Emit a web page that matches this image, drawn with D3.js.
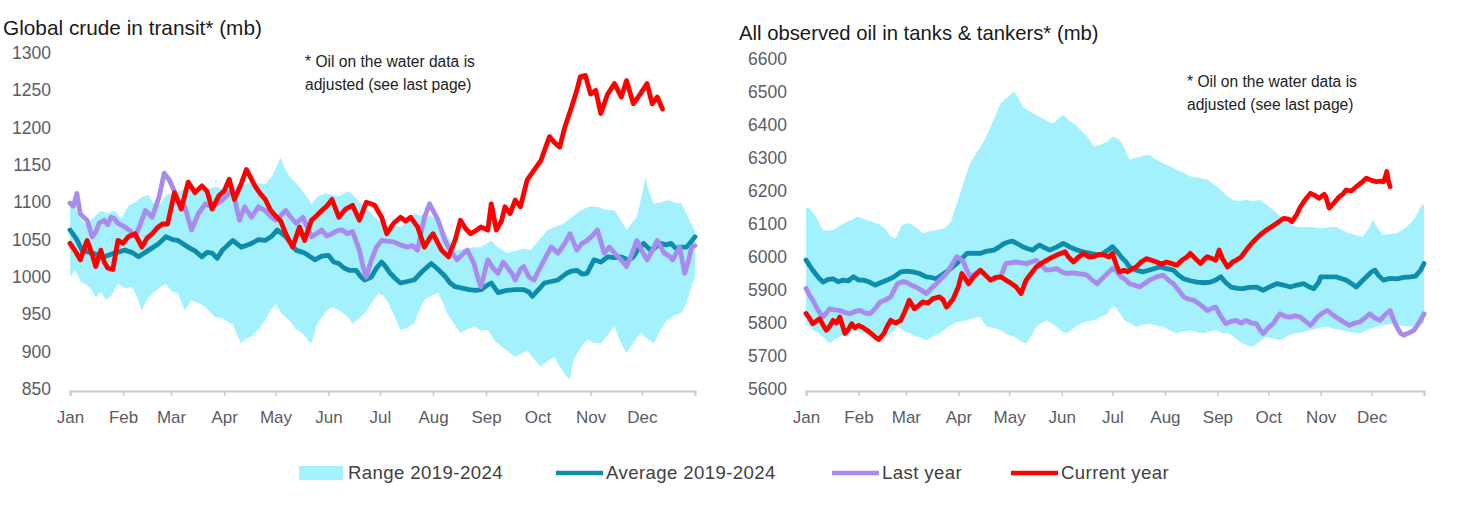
<!DOCTYPE html>
<html>
<head>
<meta charset="utf-8">
<script src="https://cdn.jsdelivr.net/npm/d3@7"></script>
<style>
  html, body { margin: 0; padding: 0; background: #fff; }
  svg { display: block; font-family: 'Liberation Sans', Arial, sans-serif; }
</style>
</head>
<body>
<svg id="chart" width="1480" height="507"></svg>
<script>
// ---------- shared categories ----------
const monthStarts = [0, 31, 59, 90, 120, 151, 181, 212, 243, 273, 304, 334, 365];
const monthLabels = ["Jan","Feb","Mar","Apr","May","Jun","Jul","Aug","Sep","Oct","Nov","Dec",""];
const leftTicks = [850, 900, 950, 1000, 1050, 1100, 1150, 1200, 1250, 1300];
const rightTicks = [5600, 5700, 5800, 5900, 6000, 6100, 6200, 6300, 6400, 6500, 6600];
const legendLabels = ["Range 2019-2024", "Average 2019-2024", "Last year", "Current year"];

// ---------- left chart: Global crude in transit (mb), [day of year, value] ----------
const leftCurrent = [[0,1045],[3,1035],[6,1023],[10,1049],[13,1030],[15,1014],[18,1036],[20,1020],[22,1012],[25,1010],[28,1049],[31,1045],[34,1054],[38,1058],[42,1040],[45,1052],[48,1058],[51,1066],[54,1071],[57,1071],[61,1113],[65,1091],[69,1127],[73,1113],[77,1122],[80,1115],[83,1091],[87,1109],[90,1115],[93,1131],[96,1104],[100,1125],[103,1144],[108,1122],[111,1112],[114,1104],[117,1090],[120,1082],[123,1075],[126,1058],[130,1040],[134,1067],[137,1049],[141,1076],[144,1082],[147,1089],[150,1095],[153,1104],[157,1080],[161,1091],[165,1096],[169,1076],[173,1100],[178,1096],[182,1080],[185,1058],[189,1072],[193,1080],[196,1075],[199,1080],[203,1067],[207,1040],[210,1052],[212,1058],[217,1036],[221,1027],[225,1050],[228,1076],[231,1065],[234,1058],[237,1062],[240,1067],[244,1063],[246,1098],[249,1063],[252,1075],[254,1094],[257,1085],[260,1103],[263,1094],[267,1130],[271,1143],[275,1156],[280,1188],[283,1180],[286,1174],[289,1201],[293,1228],[296,1250],[298,1268],[301,1270],[304,1245],[307,1250],[310,1219],[314,1245],[318,1259],[322,1241],[325,1263],[329,1232],[333,1245],[337,1259],[340,1232],[343,1241],[346,1225]];
const leftAverage = [[0,1063],[4,1050],[7,1036],[13,1032],[20,1027],[26,1032],[32,1036],[36,1033],[40,1027],[46,1036],[52,1045],[56,1054],[60,1050],[63,1049],[69,1040],[73,1035],[77,1027],[80,1033],[83,1032],[86,1025],[89,1036],[95,1049],[100,1040],[106,1045],[110,1050],[114,1049],[118,1055],[121,1063],[126,1054],[129,1045],[132,1036],[137,1032],[143,1023],[147,1028],[151,1029],[154,1020],[157,1018],[160,1012],[163,1009],[167,1009],[170,1000],[172,996],[176,1000],[179,1012],[182,1020],[184,1015],[187,1005],[190,998],[193,992],[197,994],[201,996],[206,1008],[211,1018],[215,1010],[219,1001],[222,992],[225,987],[229,985],[233,983],[237,982],[240,983],[243,988],[246,992],[250,979],[255,982],[260,983],[265,983],[268,980],[270,974],[274,984],[277,992],[281,994],[285,996],[290,1005],[293,1008],[296,1009],[299,1004],[302,1005],[306,1023],[310,1020],[314,1027],[318,1026],[322,1027],[326,1023],[329,1027],[332,1038],[335,1045],[339,1036],[342,1040],[345,1045],[348,1043],[351,1045],[354,1038],[356,1040],[360,1040],[362,1045],[365,1054]];
const leftLastYear = [[0,1099],[2,1095],[4,1112],[6,1085],[8,1080],[10,1076],[13,1054],[15,1060],[17,1072],[20,1076],[22,1070],[24,1080],[26,1078],[28,1072],[32,1067],[35,1062],[38,1054],[41,1070],[44,1089],[48,1080],[52,1107],[55,1139],[58,1130],[61,1115],[63,1103],[67,1094],[71,1063],[75,1085],[79,1098],[83,1094],[86,1098],[89,1103],[92,1110],[95,1116],[99,1076],[102,1094],[106,1080],[110,1094],[114,1089],[117,1082],[120,1076],[123,1082],[126,1089],[129,1080],[132,1072],[136,1080],[141,1054],[144,1058],[147,1063],[150,1055],[153,1058],[156,1062],[159,1063],[162,1058],[165,1061],[169,1036],[171,1015],[173,1000],[176,1023],[179,1040],[182,1049],[185,1048],[189,1047],[193,1043],[197,1040],[200,1042],[203,1036],[207,1080],[210,1098],[213,1085],[215,1076],[219,1049],[222,1036],[226,1023],[229,1030],[232,1036],[236,1018],[238,1000],[240,987],[242,1005],[244,1023],[247,1012],[250,1005],[253,1020],[255,1014],[258,1005],[260,996],[263,1010],[265,1014],[268,1000],[271,996],[274,1010],[277,1023],[281,1040],[285,1032],[289,1045],[292,1058],[296,1036],[299,1045],[302,1049],[305,1055],[308,1063],[312,1032],[315,1040],[318,1032],[321,1025],[325,1014],[328,1030],[331,1049],[334,1035],[337,1023],[340,1035],[343,1049],[347,1032],[350,1028],[352,1023],[356,1040],[359,1005],[361,1020],[363,1040],[365,1042]];
const leftRangeHigh = [[0,1095],[3,1092],[7,1075],[10,1070],[14,1080],[18,1089],[22,1085],[26,1089],[30,1078],[34,1095],[38,1100],[42,1107],[46,1110],[48,1100],[52,1095],[56,1110],[60,1112],[64,1115],[68,1120],[72,1112],[76,1120],[80,1118],[85,1121],[90,1118],[95,1122],[100,1120],[105,1128],[110,1126],[114,1124],[118,1135],[121,1150],[123,1160],[125,1148],[128,1135],[132,1126],[136,1115],[139,1105],[141,1098],[145,1108],[149,1112],[153,1110],[157,1108],[160,1112],[163,1115],[166,1108],[169,1100],[172,1094],[176,1085],[180,1076],[184,1068],[188,1070],[193,1067],[197,1075],[201,1085],[205,1082],[208,1085],[212,1080],[215,1076],[219,1060],[223,1045],[226,1036],[231,1038],[236,1040],[240,1040],[246,1049],[250,1040],[255,1032],[260,1035],[265,1038],[269,1036],[274,1050],[279,1063],[284,1068],[288,1071],[293,1080],[298,1089],[303,1094],[308,1094],[313,1090],[318,1089],[322,1075],[325,1063],[328,1072],[331,1080],[334,1110],[336,1134],[338,1115],[341,1098],[345,1100],[349,1103],[353,1100],[357,1098],[360,1085],[363,1070],[365,1063]];
const leftRangeLow = [[0,1000],[3,1010],[6,995],[9,991],[12,985],[15,973],[18,980],[21,970],[24,975],[28,991],[32,985],[36,987],[39,975],[42,955],[45,970],[48,978],[52,985],[56,991],[59,982],[63,978],[67,955],[71,969],[75,965],[79,960],[83,950],[85,946],[89,945],[92,940],[95,937],[98,920],[100,911],[103,918],[106,920],[110,930],[114,942],[117,955],[120,964],[124,950],[128,942],[132,930],[136,924],[139,915],[141,911],[144,935],[147,946],[150,955],[153,960],[157,955],[160,951],[163,945],[165,937],[169,945],[172,951],[176,965],[180,978],[183,975],[186,965],[190,945],[193,929],[197,932],[201,938],[204,955],[207,970],[211,975],[215,979],[218,965],[220,952],[224,938],[228,925],[232,930],[236,934],[240,928],[244,929],[248,915],[252,907],[256,900],[260,893],[264,898],[267,902],[271,890],[275,880],[279,888],[283,893],[286,880],[290,867],[292,862],[294,889],[298,905],[302,916],[306,912],[310,911],[314,922],[318,934],[321,915],[325,898],[329,912],[333,925],[337,918],[341,911],[345,930],[349,943],[353,948],[357,952],[360,965],[363,988],[365,1000]];

// ---------- right chart: All observed oil in tanks & tankers (mb) ----------
const rightCurrent = [[0,5829],[2,5815],[4,5798],[6,5805],[8,5813],[10,5795],[12,5778],[14,5790],[16,5808],[18,5800],[20,5818],[23,5768],[25,5780],[27,5798],[29,5785],[31,5793],[34,5785],[36,5778],[38,5770],[41,5757],[43,5750],[46,5768],[48,5790],[50,5808],[53,5800],[56,5808],[58,5830],[61,5869],[64,5843],[67,5855],[69,5864],[72,5860],[75,5874],[79,5879],[81,5870],[83,5848],[85,5860],[87,5874],[90,5910],[92,5950],[94,5935],[96,5919],[99,5940],[101,5950],[103,5960],[106,5945],[109,5930],[112,5938],[115,5940],[118,5930],[120,5924],[124,5910],[127,5889],[130,5930],[133,5950],[136,5970],[139,5980],[142,5990],[145,5998],[148,6006],[150,6010],[153,6016],[155,6000],[158,5985],[161,6000],[164,6011],[167,6000],[170,6001],[173,6008],[176,6006],[179,6000],[181,6011],[183,5980],[185,5955],[188,5960],[190,5955],[193,5965],[195,5970],[198,5985],[201,5995],[204,5990],[207,5985],[210,5978],[213,5985],[216,5980],[219,5975],[222,5990],[225,6000],[227,6011],[230,5995],[233,5980],[235,5992],[237,6001],[240,5995],[242,5990],[244,6021],[246,5995],[249,5970],[252,5985],[254,5990],[257,6000],[260,6021],[263,6040],[266,6056],[269,6070],[272,6082],[275,6092],[278,6102],[282,6117],[285,6115],[287,6107],[290,6130],[292,6152],[295,6175],[298,6193],[301,6185],[303,6178],[306,6190],[307,6183],[309,6148],[312,6165],[315,6183],[317,6190],[319,6203],[322,6200],[325,6213],[328,6225],[331,6239],[334,6232],[337,6228],[339,6230],[341,6228],[342,6240],[343,6259],[344,6230],[345,6213]];
const rightAverage = [[0,5991],[2,5975],[4,5960],[7,5940],[10,5924],[13,5932],[16,5934],[19,5925],[22,5930],[25,5928],[28,5940],[31,5930],[34,5930],[37,5925],[41,5915],[44,5922],[48,5930],[52,5940],[56,5955],[60,5957],[63,5955],[67,5950],[71,5940],[74,5938],[77,5934],[80,5945],[83,5955],[86,5968],[89,5980],[92,5995],[95,6011],[99,6012],[103,6011],[107,6018],[111,6021],[114,6030],[117,6041],[120,6046],[122,6048],[125,6040],[128,6031],[131,6025],[134,6021],[136,6030],[138,6036],[141,6028],[144,6021],[148,6030],[152,6041],[156,6030],[160,6021],[164,6015],[168,6011],[171,6008],[174,6006],[178,6020],[181,6031],[184,6015],[186,6001],[189,5985],[191,5970],[195,5960],[199,5955],[204,5962],[209,5970],[213,5965],[217,5960],[220,5945],[223,5934],[227,5928],[231,5924],[235,5922],[239,5924],[242,5930],[245,5940],[248,5922],[251,5909],[255,5905],[258,5904],[262,5908],[266,5909],[270,5899],[274,5910],[278,5919],[282,5915],[286,5909],[290,5915],[294,5919],[297,5910],[300,5904],[303,5925],[304,5940],[308,5940],[313,5940],[316,5935],[319,5930],[322,5920],[325,5909],[328,5925],[331,5940],[334,5955],[336,5960],[338,5945],[341,5930],[345,5935],[349,5934],[353,5938],[357,5940],[360,5942],[363,5960],[365,5980]];
const rightLastYear = [[0,5905],[2,5885],[4,5869],[7,5840],[10,5818],[12,5830],[14,5843],[17,5840],[20,5838],[23,5832],[26,5828],[29,5835],[32,5838],[35,5830],[38,5828],[41,5845],[44,5864],[47,5870],[50,5879],[52,5900],[54,5919],[57,5925],[59,5924],[62,5915],[65,5909],[68,5900],[71,5889],[74,5905],[77,5919],[80,5935],[83,5950],[86,5975],[89,6001],[91,5995],[93,5985],[95,5960],[97,5940],[100,5950],[103,5960],[106,5945],[109,5930],[112,5935],[115,5940],[118,5980],[121,5982],[124,5985],[127,5982],[130,5980],[133,5985],[136,5990],[139,5975],[142,5960],[145,5962],[148,5965],[151,5955],[154,5950],[157,5952],[160,5950],[163,5948],[166,5945],[169,5930],[172,5919],[175,5935],[178,5950],[181,5965],[183,5960],[186,5940],[189,5930],[191,5919],[194,5915],[197,5909],[200,5920],[203,5930],[207,5940],[211,5945],[214,5930],[217,5919],[220,5900],[223,5879],[226,5872],[229,5869],[233,5855],[237,5838],[240,5845],[242,5848],[245,5820],[248,5798],[251,5805],[254,5808],[257,5800],[260,5808],[263,5800],[266,5798],[268,5780],[270,5768],[273,5785],[276,5798],[278,5815],[280,5828],[283,5820],[286,5818],[289,5822],[292,5818],[295,5805],[298,5793],[300,5805],[302,5818],[305,5830],[308,5838],[311,5825],[313,5818],[317,5805],[321,5793],[324,5800],[327,5803],[330,5815],[333,5828],[336,5815],[339,5808],[342,5825],[345,5838],[347,5810],[349,5788],[351,5770],[353,5763],[356,5770],[359,5778],[362,5800],[365,5828]];
const rightRangeHigh = [[0,6150],[2,6147],[4,6135],[6,6122],[8,6100],[10,6082],[13,6080],[16,6082],[20,6095],[24,6107],[27,6112],[30,6122],[33,6118],[36,6112],[40,6105],[44,6097],[47,6085],[50,6062],[53,6056],[56,6092],[58,6100],[61,6102],[65,6090],[69,6072],[73,6078],[77,6082],[80,6085],[83,6092],[86,6110],[87,6132],[89,6160],[91,6193],[94,6240],[97,6284],[100,6310],[103,6334],[106,6360],[109,6395],[112,6430],[115,6466],[119,6485],[123,6501],[125,6485],[128,6456],[131,6445],[134,6436],[137,6428],[140,6420],[143,6410],[146,6405],[149,6420],[152,6430],[155,6415],[158,6405],[162,6385],[166,6365],[168,6350],[170,6334],[174,6340],[178,6350],[181,6365],[184,6358],[186,6350],[189,6320],[191,6294],[194,6300],[197,6304],[200,6308],[203,6309],[207,6295],[211,6284],[215,6275],[219,6264],[223,6255],[227,6244],[232,6240],[237,6234],[241,6220],[245,6203],[248,6188],[252,6173],[256,6170],[260,6173],[264,6170],[268,6173],[272,6158],[276,6142],[279,6128],[282,6112],[286,6100],[290,6092],[294,6090],[298,6092],[302,6088],[305,6087],[309,6090],[313,6092],[317,6080],[321,6072],[325,6065],[329,6062],[332,6085],[335,6112],[338,6085],[341,6067],[345,6070],[349,6072],[353,6085],[357,6102],[360,6120],[363,6152],[365,6160]];
const rightRangeLow = [[0,5800],[2,5789],[5,5775],[8,5768],[11,5752],[14,5738],[17,5750],[20,5758],[23,5770],[26,5789],[30,5775],[33,5770],[36,5768],[40,5760],[43,5755],[46,5748],[50,5770],[54,5789],[58,5775],[61,5768],[65,5760],[68,5755],[71,5748],[75,5760],[79,5768],[83,5785],[87,5798],[91,5805],[95,5808],[99,5815],[103,5818],[105,5800],[107,5789],[111,5785],[115,5778],[119,5765],[123,5758],[127,5745],[130,5738],[133,5760],[136,5789],[139,5800],[142,5808],[145,5798],[148,5789],[151,5775],[154,5768],[158,5785],[162,5798],[166,5805],[170,5808],[174,5818],[178,5828],[181,5850],[183,5848],[186,5825],[188,5808],[192,5798],[195,5789],[199,5795],[203,5798],[207,5792],[211,5789],[215,5778],[219,5768],[223,5775],[227,5778],[231,5772],[235,5768],[239,5775],[242,5778],[246,5770],[250,5768],[254,5752],[258,5738],[261,5732],[264,5728],[268,5745],[272,5758],[276,5752],[280,5748],[284,5760],[288,5768],[293,5772],[298,5778],[303,5785],[308,5789],[312,5782],[317,5778],[322,5772],[327,5768],[332,5780],[337,5789],[342,5795],[347,5798],[352,5792],[357,5789],[361,5795],[365,5800]];

// ---------- styling ----------
const COL_RANGE = "#a2f1fd";
const COL_AVG = "#0e8cab";
const COL_LAST = "#a98bee";
const COL_CUR = "#ff0000";
const AXIS_COL = "#c4c8d0";
const TICK_TXT = "#5b5b66";

const svg = d3.select("#chart");

function drawPanel(cfg) {
  const g = svg.append("g");
  const x = d3.scaleLinear().domain([0, 365]).range([cfg.x0, cfg.x1]);
  const y = d3.scaleLinear().domain(cfg.yDomain).range([cfg.yBottom, cfg.yTop]);

  // range band (polygon: high forward, low backward)
  const poly = cfg.high.concat(cfg.low.slice().reverse());
  const bandLine = d3.line().x(d => x(d[0])).y(d => y(d[1]));
  g.append("path")
    .attr("d", bandLine(poly) + "Z")
    .attr("fill", COL_RANGE)
    .attr("stroke", "none");

  const line = d3.line().x(d => x(d[0])).y(d => y(d[1])).curve(d3.curveLinear);
  [[cfg.avg, COL_AVG], [cfg.last, COL_LAST], [cfg.cur, COL_CUR]].forEach(([data, col]) => {
    g.append("path")
      .attr("d", line(data))
      .attr("fill", "none")
      .attr("stroke", col)
      .attr("stroke-width", 4.8)
      .attr("stroke-linejoin", "round")
      .attr("stroke-linecap", "round");
  });

  // x axis
  const xa = g.append("g")
    .attr("transform", `translate(0,${cfg.axisY})`)
    .call(d3.axisBottom(x).tickValues(monthStarts).tickSize(5).tickPadding(15)
      .tickFormat((d, i) => monthLabels[i]));
  xa.select(".domain").attr("stroke", AXIS_COL).attr("stroke-width", 1.8);
  xa.selectAll(".tick line").attr("stroke", AXIS_COL).attr("stroke-width", 1.5);
  xa.selectAll(".tick text")
    .attr("fill", TICK_TXT)
    .style("font-size", "17px")
    .style("font-family", "'Liberation Sans', Arial, sans-serif");

  // y axis labels
  const ya = g.append("g")
    .attr("transform", `translate(${cfg.labelX},0)`)
    .call(d3.axisLeft(y).tickValues(cfg.ticks).tickSize(0).tickPadding(0).tickFormat(d3.format("d")));
  ya.select(".domain").remove();
  ya.selectAll(".tick text")
    .attr("fill", TICK_TXT)
    .style("font-size", "17.5px")
    .style("font-family", "'Liberation Sans', Arial, sans-serif");

  // title
  g.append("text")
    .attr("x", cfg.titleX).attr("y", cfg.titleY)
    .attr("fill", "#1a1a1a")
    .style("font-size", cfg.titleSize)
    .text(cfg.title);

  // note
  const note = g.append("text")
    .attr("x", cfg.noteX).attr("y", cfg.noteY)
    .attr("fill", "#222")
    .style("font-size", "15.6px");
  note.append("tspan").attr("x", cfg.noteX).attr("dy", 0).text("* Oil on the water data is");
  note.append("tspan").attr("x", cfg.noteX).attr("dy", 23).text("adjusted (see last page)");
}

drawPanel({
  x0: 70, x1: 695, yDomain: [850, 1300], yBottom: 389, yTop: 53, axisY: 391,
  labelX: 51, ticks: leftTicks,
  high: leftRangeHigh, low: leftRangeLow, avg: leftAverage, last: leftLastYear, cur: leftCurrent,
  title: "Global crude in transit* (mb)", titleX: 3, titleY: 35, titleSize: "20.8px",
  noteX: 305, noteY: 67
});

drawPanel({
  x0: 806, x1: 1424, yDomain: [5600, 6600], yBottom: 389, yTop: 59, axisY: 391,
  labelX: 787, ticks: rightTicks,
  high: rightRangeHigh, low: rightRangeLow, avg: rightAverage, last: rightLastYear, cur: rightCurrent,
  title: "All observed oil in tanks & tankers* (mb)", titleX: 739, titleY: 40, titleSize: "20.3px",
  noteX: 1187, noteY: 87
});

// ---------- legend ----------
const legendItems = [
  { label: legendLabels[0], type: "rect", color: COL_RANGE, x: 299 },
  { label: legendLabels[1], type: "line", color: COL_AVG, x: 556 },
  { label: legendLabels[2], type: "line", color: COL_LAST, x: 832 },
  { label: legendLabels[3], type: "line", color: COL_CUR, x: 1011 }
];
const lg = svg.append("g");
legendItems.forEach(it => {
  if (it.type === "rect") {
    lg.append("rect").attr("x", it.x).attr("y", 466).attr("width", 44).attr("height", 14).attr("fill", it.color);
  } else {
    lg.append("line").attr("x1", it.x).attr("x2", it.x + 47).attr("y1", 473).attr("y2", 473)
      .attr("stroke", it.color).attr("stroke-width", 4.5);
  }
  lg.append("text")
    .attr("x", it.x + (it.type === "rect" ? 49 : 50)).attr("y", 479)
    .attr("fill", "#404040")
    .style("font-size", "18.6px")
    .style("letter-spacing", "0.4px")
    .text(it.label);
});
</script>
</body>
</html>
